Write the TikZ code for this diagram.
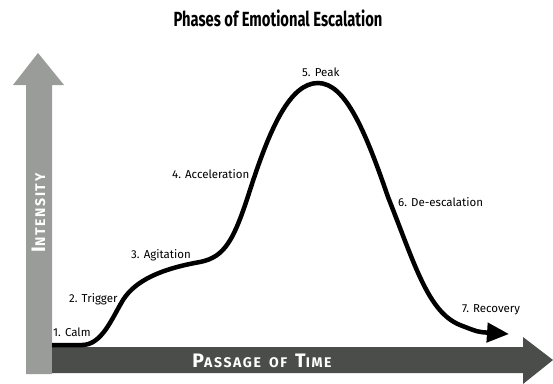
\documentclass[tikz,border=0pt]{standalone}
\usepackage{fontspec}
\setmainfont{Fira Sans}
\newfontfamily\titlefont[FakeStretch=0.72]{Fira Sans}
\newfontfamily\labelfont{Fira Sans}
\newfontfamily\axisfont[LetterSpace=12]{Fira Sans}
\usetikzlibrary{positioning, arrows.meta}

\definecolor{lightaxis}{HTML}{9A9C99}
\definecolor{darkaxis}{HTML}{4B4D4A}

% fake small caps for the axis names
\newcommand{\capbig}[1]{{\fontsize{19.5}{19.5}\selectfont #1}}
\newcommand{\capsmall}[1]{{\fontsize{14}{14}\selectfont #1}}

\begin{document}
\begin{tikzpicture}[x=1pt, y=-1pt,
    phase/.style = {anchor=base west, inner sep=0pt, font=\labelfont\fontsize{11.5}{13}\selectfont},
    axisname/.style = {text=white, inner sep=0pt, font=\axisfont\bfseries}]
                \useasboundingbox (0,0) rectangle (553,383);

                % Axes
                \fill[lightaxis] (26,374) -- (26,85) -- (13,85) -- (38,53) -- (64,85) -- (52,85) -- (52,374) -- cycle;
                \fill[darkaxis] (52,347) -- (523,347) -- (523,337) -- (553,360) -- (523,384) -- (523,373) -- (52,373) -- cycle;

                % Nodes
                \node[font=\titlefont\bfseries\fontsize{20.5}{22}\selectfont, anchor=base, inner sep=0pt] (title) at (278,26) {Phases of Emotional Escalation};
                \node[axisname, rotate=90, font=\axisfont\bfseries\fontsize{14.5}{14.5}\selectfont] (intensity) at (38.5,213) {\capbig{I}\capsmall{NTENSITY}};
                \node[axisname] (time) at (262,361) {\capbig{P}\capsmall{ASSAGE}\hspace{8pt}\capsmall{OF}\hspace{8pt}\capbig{T}\capsmall{IME}};

                \node[phase] (calm) at (53,336) {1. Calm};
                \node[phase] (trigger) at (69,302) {2. Trigger};
                \node[phase] (agitation) at (131,258) {3. Agitation};
                \node[phase] (accel) at (172,178) {4. Acceleration};
                \node[phase] (peak) at (302,76) {5. Peak};
                \node[phase] (deesc) at (398,206) {6. De-escalation};
                \node[phase] (recovery) at (462,312) {7. Recovery};

                % Curve
                \draw[line width=4.5pt, -{Triangle[length=22pt, width=19pt]}]
                    (52,345) -- (82,345) .. controls (102,345) and (112,318) .. (123,300)
                    .. controls (135,281) and (160,269) .. (200,262)
                    .. controls (225,257) and (234,240) .. (250,190)
                    .. controls (270,128) and (290,83) .. (318,83)
                    .. controls (345,83) and (365,130) .. (388,197)
                    .. controls (415,265) and (428,312) .. (460,325)
                    .. controls (478,332) .. (509,334);
            \end{tikzpicture}
\end{document}
